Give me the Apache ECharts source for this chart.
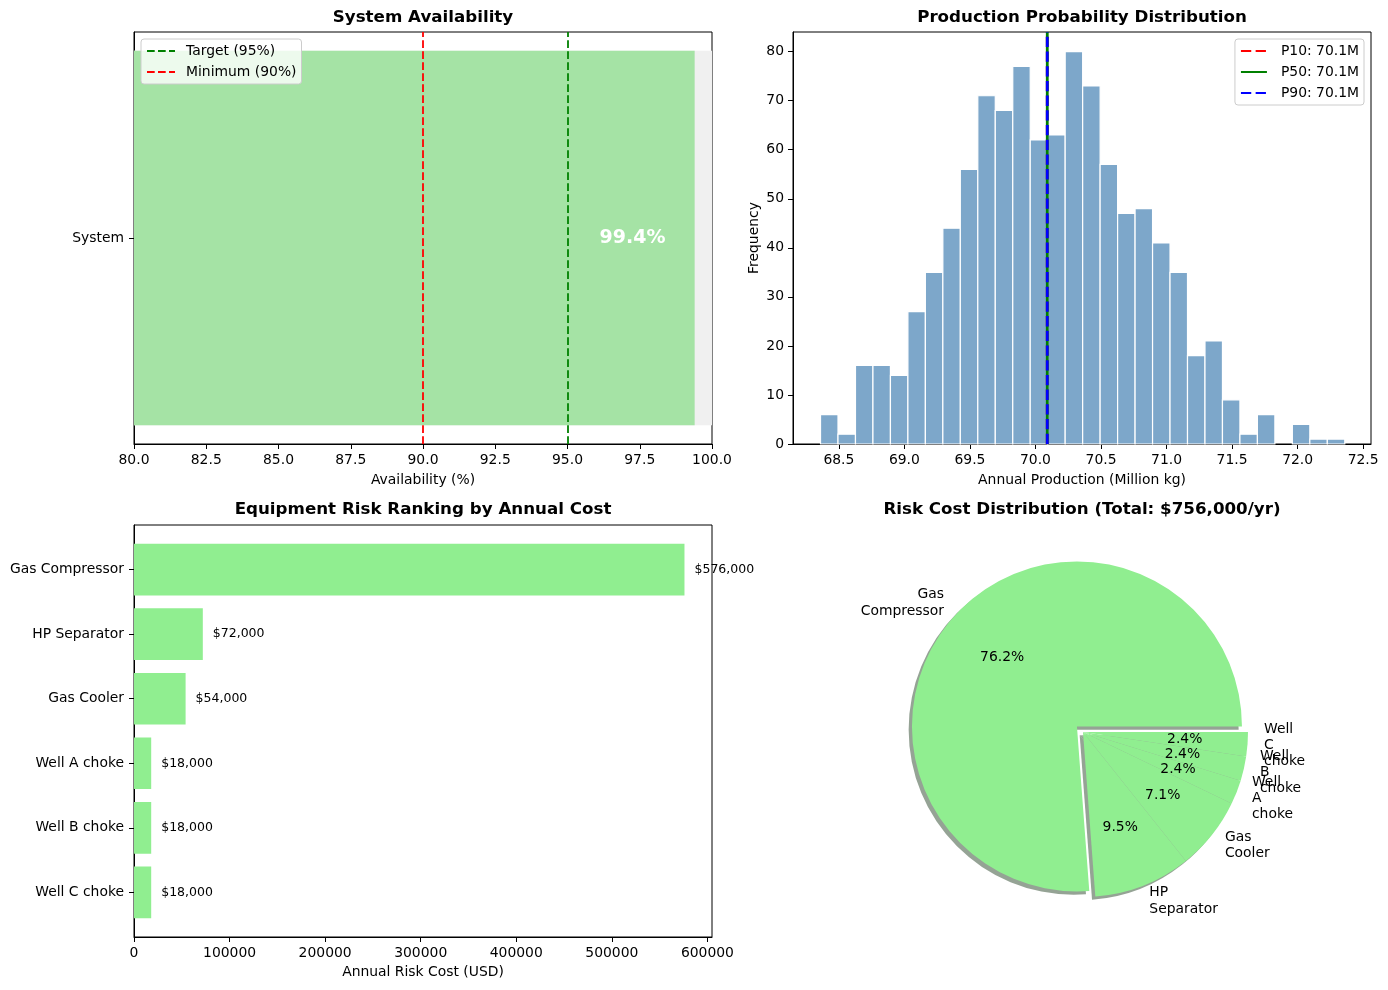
<!DOCTYPE html>
<html lang="en">
<head>
    <meta charset="UTF-8">
    <title>Reliability Overview</title>
    <script src="https://cdn.jsdelivr.net/npm/echarts@6/dist/echarts.min.js"></script>
</head>
<style>
    *{
        margin: 0;
        padding: 0;
    }
    html,body{
        width: 100%;
        height: 100%;
        overflow: hidden;
        background: #fff;
    }
    .container{
        width: 1388px;
        height: 990px;
    }
</style>
<body>
<div class="container"></div>
<script>
    // ---- values ----
    const availability = 99.4;
    const availTarget = 95;
    const availMinimum = 90;
    const availTicks = [80, 82.5, 85, 87.5, 90, 92.5, 95, 97.5, 100];

    const histCounts = [6, 2, 16, 16, 14, 27, 35, 44, 56, 71, 68, 77, 62, 63, 80,
                        73, 57, 47, 48, 41, 35, 18, 21, 9, 2, 6, 0, 4, 1, 1];
    const histStart = 68.36;
    const histEnd = 72.36;
    const p10 = 70.09, p50 = 70.09, p90 = 70.09;
    const prodTicks = [68.5, 69, 69.5, 70, 70.5, 71, 71.5, 72, 72.5];
    const freqTicks = [0, 10, 20, 30, 40, 50, 60, 70, 80];

    const equipment = ['Gas Compressor', 'HP Separator', 'Gas Cooler', 'Well A choke', 'Well B choke', 'Well C choke'];
    const riskCost = [576000, 72000, 54000, 18000, 18000, 18000];
    const costTicks = [0, 100000, 200000, 300000, 400000, 500000, 600000];

    const font = 'DejaVu Sans';
    const totalCost = riskCost.reduce((a, b) => a + b, 0);
    const binW = (histEnd - histStart) / histCounts.length;
    const bins = histCounts.map((c, i) => [histStart + i * binW, histStart + (i + 1) * binW, c]);

    const pieC = [1083, 732];
    const pieR = 165;

    let chart = echarts.init(document.querySelector('.container'), null, {renderer: 'canvas'});

    function axisBase(extra) {
        return Object.assign({
            axisLine: {show: true, onZero: false, lineStyle: {color: '#000', width: 1}},
            axisTick: {show: true, length: 5, lineStyle: {color: '#000'}},
            axisLabel: {color: '#000', fontSize: 13.9, fontFamily: font, margin: 9},
            splitLine: {show: false},
            nameTextStyle: {color: '#000', fontSize: 13.9, fontFamily: font},
            nameLocation: 'middle'
        }, extra);
    }

    function titleAt(text, x, y) {
        return {
            text, left: x, top: y, textAlign: 'center', padding: 0,
            textStyle: {fontFamily: font, fontWeight: 'bold', fontSize: 16.7, color: '#000'}
        };
    }

    const legendBase = {
        orient: 'vertical',
        itemHeight: 14,
        itemGap: 7,
        padding: 5,
        backgroundColor: 'rgba(255,255,255,0.8)',
        borderColor: '#cccccc',
        borderWidth: 1,
        borderRadius: 3,
        itemStyle: {opacity: 0},
        textStyle: {fontFamily: font, fontSize: 13.9, color: '#000'}
    };

    const pieData = equipment.map((n, i) => ({name: n, value: riskCost[i], selected: i === 0}));

    let option = {
        animation: false,
        backgroundColor: '#fff',
        textStyle: {fontFamily: font},
        title: [
            titleAt('System Availability', 423, 9.5),
            titleAt('Production Probability Distribution', 1082, 9.5),
            titleAt('Equipment Risk Ranking by Annual Cost', 423, 501.5),
            titleAt('Risk Cost Distribution (Total: $' + totalCost.toLocaleString('en-US') + '/yr)', 1082, 501.5)
        ],
        legend: [
            Object.assign({}, legendBase, {
                left: 141, top: 39, itemWidth: 28,
                data: ['Target (95%)', 'Minimum (90%)'],
                textStyle: Object.assign({}, legendBase.textStyle, {padding: [0, 0, 0, 6]})
            }),
            Object.assign({}, legendBase, {
                right: 24, top: 39, itemWidth: 26,
                data: ['P10: ' + p10.toFixed(1) + 'M', 'P50: ' + p50.toFixed(1) + 'M', 'P90: ' + p90.toFixed(1) + 'M'],
                textStyle: Object.assign({}, legendBase.textStyle, {padding: [0, 0, 0, 9]})
            })
        ],
        grid: [
            {left: 134, top: 32, width: 578, height: 412, show: true, borderColor: '#000', borderWidth: 1},
            {left: 793, top: 32, width: 578, height: 412, show: true, borderColor: '#000', borderWidth: 1},
            {left: 134, top: 525, width: 578, height: 412, show: true, borderColor: '#000', borderWidth: 1}
        ],
        xAxis: [
            axisBase({
                gridIndex: 0, type: 'value', min: 80, max: 100, interval: 2.5,
                name: 'Availability (%)', nameGap: 29,
                axisLabel: {color: '#000', fontSize: 13.9, fontFamily: font, margin: 9, formatter: v => v.toFixed(1)}
            }),
            axisBase({
                gridIndex: 1, type: 'value', min: 68.15, max: 72.56,
                name: 'Annual Production (Million kg)', nameGap: 29,
                axisLabel: {color: '#000', fontSize: 13.9, fontFamily: font, margin: 9,
                    customValues: prodTicks, formatter: v => v.toFixed(1)},
                axisTick: {show: true, length: 5, lineStyle: {color: '#000'}, customValues: prodTicks}
            }),
            axisBase({
                gridIndex: 2, type: 'value', min: 0, max: 604800, interval: 100000,
                name: 'Annual Risk Cost (USD)', nameGap: 28,
                axisLabel: {color: '#000', fontSize: 13.9, fontFamily: font, margin: 9, formatter: v => String(v)}
            })
        ],
        yAxis: [
            axisBase({
                gridIndex: 0, type: 'category', data: ['System'],
                axisTick: {show: true, length: 5, alignWithLabel: true, lineStyle: {color: '#000'}},
                axisLabel: {color: '#000', fontSize: 13.9, fontFamily: font, margin: 10}
            }),
            axisBase({
                gridIndex: 1, type: 'value', min: 0, max: 84,
                name: 'Frequency', nameGap: 32,
                axisLabel: {color: '#000', fontSize: 13.9, fontFamily: font, margin: 9, customValues: freqTicks},
                axisTick: {show: true, length: 5, lineStyle: {color: '#000'}, customValues: freqTicks}
            }),
            axisBase({
                gridIndex: 2, type: 'value', min: -0.69, max: 5.69, inverse: true,
                axisLabel: {color: '#000', fontSize: 13.9, fontFamily: font, margin: 10,
                    customValues: [0, 1, 2, 3, 4, 5], formatter: v => equipment[Math.round(v)]},
                axisTick: {show: true, length: 5, lineStyle: {color: '#000'}, customValues: [0, 1, 2, 3, 4, 5]}
            })
        ],
        series: [
            // --- availability panel ---
            {
                type: 'custom', xAxisIndex: 0, yAxisIndex: 0, z: 2,
                data: [[100, 0, 0], [availability, 0, 1]],
                encode: {x: 0, y: 1},
                renderItem: function (params, api) {
                    const start = api.coord([80, api.value(1)]);
                    const end = api.coord([api.value(0), api.value(1)]);
                    const h = api.size([0, 1])[1] * 0.909;
                    const isMain = api.value(2) === 1;
                    const children = [{
                        type: 'rect',
                        shape: {x: start[0], y: start[1] - h / 2, width: end[0] - start[0], height: h},
                        style: {fill: isMain ? '#a5e3a5' : '#f0f0f0'}
                    }];
                    if (isMain) {
                        const t = api.coord([api.value(0) - 2.15, api.value(1)]);
                        children.push({
                            type: 'text', x: t[0], y: t[1],
                            style: {text: api.value(0).toFixed(1) + '%', fill: '#fff',
                                font: 'bold 19px "DejaVu Sans"', align: 'center', verticalAlign: 'middle'}
                        });
                    }
                    return {type: 'group', children};
                }
            },
            {
                type: 'line', name: 'Target (95%)', xAxisIndex: 0, yAxisIndex: 0, data: [],
                symbol: 'none', z: 3,
                lineStyle: {color: 'green', width: 1.8, type: [7.7, 3.3]},
                itemStyle: {color: 'green'},
                markLine: {symbol: 'none', silent: true, label: {show: false},
                    lineStyle: {color: 'green', width: 1.8, type: [7.7, 3.3]},
                    data: [{xAxis: availTarget}]}
            },
            {
                type: 'line', name: 'Minimum (90%)', xAxisIndex: 0, yAxisIndex: 0, data: [],
                symbol: 'none', z: 3,
                lineStyle: {color: 'red', width: 1.8, type: [7.7, 3.3]},
                itemStyle: {color: 'red'},
                markLine: {symbol: 'none', silent: true, label: {show: false},
                    lineStyle: {color: 'red', width: 1.8, type: [7.7, 3.3]},
                    data: [{xAxis: availMinimum}]}
            },
            // --- production histogram ---
            {
                type: 'custom', xAxisIndex: 1, yAxisIndex: 1, z: 2,
                data: bins,
                encode: {x: [0, 1], y: 2},
                renderItem: function (params, api) {
                    if (api.value(2) <= 0) return null;
                    const p0 = api.coord([api.value(0), api.value(2)]);
                    const p1 = api.coord([api.value(1), 0]);
                    return {
                        type: 'rect',
                        shape: {x: p0[0], y: p0[1], width: p1[0] - p0[0], height: p1[1] - p0[1]},
                        style: {fill: '#7da7ca', stroke: '#fff', lineWidth: 1.2}
                    };
                }
            },
            {
                type: 'line', name: 'P10: ' + p10.toFixed(1) + 'M', xAxisIndex: 1, yAxisIndex: 1,
                data: [[p10, 0], [p10, 84]], symbol: 'none', z: 3,
                lineStyle: {color: 'red', width: 2.8, type: [10.3, 4.4]}, itemStyle: {color: 'red'}
            },
            {
                type: 'line', name: 'P50: ' + p50.toFixed(1) + 'M', xAxisIndex: 1, yAxisIndex: 1,
                data: [[p50, 0], [p50, 84]], symbol: 'none', z: 4,
                lineStyle: {color: 'green', width: 2.8, type: 'solid'}, itemStyle: {color: 'green'}
            },
            {
                type: 'line', name: 'P90: ' + p90.toFixed(1) + 'M', xAxisIndex: 1, yAxisIndex: 1,
                data: [[p90, 0], [p90, 84]], symbol: 'none', z: 5,
                lineStyle: {color: 'blue', width: 2.8, type: [10.3, 4.4]}, itemStyle: {color: 'blue'}
            },
            // --- risk ranking bars ---
            {
                type: 'custom', xAxisIndex: 2, yAxisIndex: 2, z: 2,
                data: riskCost.map((v, i) => [v, i]),
                encode: {x: 0, y: 1},
                renderItem: function (params, api) {
                    const base = api.coord([0, api.value(1)]);
                    const end = api.coord([api.value(0), api.value(1)]);
                    const h = Math.abs(api.size([0, 0.8])[1]);
                    return {
                        type: 'group',
                        children: [{
                            type: 'rect',
                            shape: {x: base[0], y: base[1] - h / 2, width: end[0] - base[0], height: h},
                            style: {fill: '#90ee90'}
                        }, {
                            type: 'text', x: end[0] + 10, y: base[1],
                            style: {text: '$' + api.value(0).toLocaleString('en-US'), fill: '#000',
                                font: '12.5px "DejaVu Sans"', align: 'left', verticalAlign: 'middle'}
                        }]
                    };
                }
            },
            // --- risk cost pie: shadow, wedges, percentages ---
            {
                type: 'pie', center: [pieC[0] - 3.3, pieC[1] + 3.3], radius: pieR,
                startAngle: 0, clockwise: false, selectedMode: 'single', selectedOffset: 8.25,
                silent: true, z: 1, avoidLabelOverlap: false,
                itemStyle: {color: 'rgba(43,71,43,0.5)'},
                label: {show: false}, labelLine: {show: false},
                emphasis: {disabled: true}, select: {itemStyle: {color: 'rgba(43,71,43,0.5)'}},
                data: pieData
            },
            {
                type: 'pie', center: pieC, radius: pieR,
                startAngle: 0, clockwise: false, selectedMode: 'single', selectedOffset: 8.25,
                silent: true, z: 2, avoidLabelOverlap: false,
                labelLayout: {hideOverlap: false},
                itemStyle: {color: '#90ee90'},
                emphasis: {disabled: true}, select: {itemStyle: {color: '#90ee90'}},
                label: {
                    show: true, position: 'outside', alignTo: 'none', distanceToLabelLine: 0,
                    formatter: p => p.name.replace(/ /g, '\n'),
                    color: '#000', fontSize: 13.9, lineHeight: 16.3, fontFamily: font
                },
                labelLine: {show: false, length: 16.5, length2: 0},
                data: pieData
            },
            {
                type: 'pie', center: pieC, radius: [0, pieR * 1.2],
                startAngle: 0, clockwise: false, selectedMode: 'single', selectedOffset: 8.25,
                silent: true, z: 3, avoidLabelOverlap: false,
                labelLayout: {hideOverlap: false},
                itemStyle: {color: 'rgba(0,0,0,0)'},
                emphasis: {disabled: true}, select: {itemStyle: {color: 'rgba(0,0,0,0)'}},
                label: {
                    show: true, position: 'inside',
                    formatter: p => (p.value / totalCost * 100).toFixed(1) + '%',
                    color: '#000', fontSize: 13.9, fontFamily: font
                },
                labelLine: {show: false},
                data: pieData
            }
        ]
    };

    chart.setOption(option);
</script>
</body>
</html>
